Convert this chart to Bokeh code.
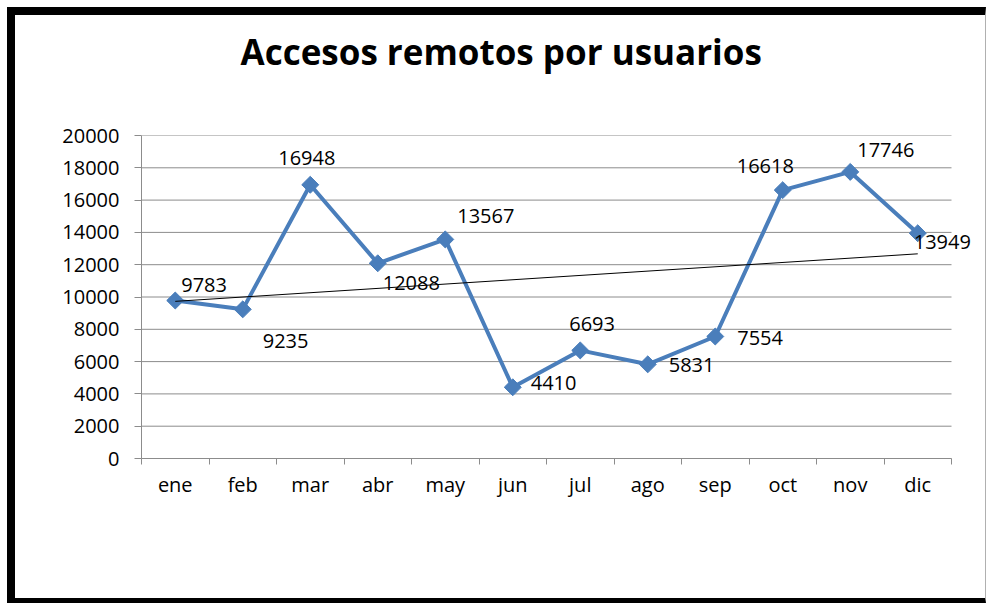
import numpy as np
from bokeh.plotting import figure
from bokeh.models import ColumnDataSource, FixedTicker, Range1d, Title
from bokeh.core.properties import value
from bokeh.embed import file_html
from bokeh.resources import INLINE

months = ["ene", "feb", "mar", "abr", "may", "jun", "jul", "ago", "sep", "oct", "nov", "dic"]
accesos = [9783, 9235, 16948, 12088, 13567, 4410, 6693, 5831, 7554, 16618, 17746, 13949]
y_ticks = [0, 2000, 4000, 6000, 8000, 10000, 12000, 14000, 16000, 18000, 20000]
title_text = "Accesos remotos por usuarios"

# label placement (screen px offsets), style only
label_dx = [6, 20, -32, 5, 12, 18, -11, 21, 22, -46, 7, -4]
label_dy = [-16, 32, -27, 20, -23, -4, -26, 1, 1, -24, -22, 9]

FONT = "Open Sans"
BLUE = "#4A7EBB"
GRID = "#8C8C8C"

W, H = 970, 583            # host content box
BL, BR, BT, BB = 8, 1, 8, 5  # css border widths
CW, CH = W + BL + BR, H + BT + BB   # canvas size bokeh actually lays out
ML, MR, MT, MB = 126, 0, 120, 153
FW = CW - ML - MR
PLOT_W = 810  # width of the category area in px

n = len(months)
xs = [i + 0.5 for i in range(n)]
src = ColumnDataSource(dict(x=xs, y=accesos, lab=[str(v) for v in accesos],
                            dx=label_dx, dy=label_dy))

p = figure(width=W, height=H, output_backend="svg", toolbar_location=None,
           x_range=Range1d(0, n * FW / PLOT_W), y_range=Range1d(y_ticks[0], y_ticks[-1]),
           min_border_left=ML, min_border_right=MR, min_border_top=MT, min_border_bottom=MB)
p.styles = {"margin": "7px 0 0 7px", "box-sizing": "content-box",
            "border-style": "solid", "border-color": "black #b0b0b0 black black",
            "border-width": f"{BT}px {BR}px {BB}px {BL}px"}

# main title, with a spacer title between it and the plot area
p.title.text = title_text
p.title.text_font = FONT
p.title.text_font_size = "35px"
p.title.text_font_style = "bold"
p.title.text_color = "black"
p.title.align = "left"
p.title.offset = 99
p.title.vertical_align = "middle"
p.title.standoff = 0
p.add_layout(Title(text=" ", text_font=FONT, text_font_size="10px", standoff=44), "above")

p.outline_line_color = None
p.background_fill_color = "white"
p.border_fill_color = "white"

# y axis
p.yaxis.ticker = FixedTicker(ticks=y_ticks)
p.yaxis.axis_line_color = GRID
p.yaxis.major_tick_line_color = GRID
p.yaxis.major_tick_out = 7
p.yaxis.major_tick_in = 0
p.yaxis.minor_tick_line_color = None
p.yaxis.major_label_text_font = FONT
p.yaxis.major_label_text_font_size = "20px"
p.yaxis.major_label_text_color = "black"
p.yaxis.major_label_standoff = 15
p.ygrid.grid_line_color = None

# horizontal gridlines limited to the category area
p.segment(x0=[0] * len(y_ticks), x1=[n] * len(y_ticks), y0=y_ticks, y1=y_ticks,
          line_color=GRID, line_width=1)

# x axis: labels at centers, ticks at boundaries (minor)
p.xaxis.ticker = FixedTicker(ticks=xs, minor_ticks=list(range(n + 1)))
p.xaxis.bounds = (0, n)
p.xaxis.major_label_overrides = {x: m for x, m in zip(xs, months)}
p.xaxis.axis_line_color = GRID
p.xaxis.major_tick_line_color = None
p.xaxis.minor_tick_line_color = GRID
p.xaxis.minor_tick_out = 6
p.xaxis.minor_tick_in = 0
p.xaxis.major_label_text_font = FONT
p.xaxis.major_label_text_font_size = "20px"
p.xaxis.major_label_text_color = "black"
p.xaxis.major_label_standoff = 6
p.xgrid.grid_line_color = None

# series
p.line("x", "y", source=src, line_color=BLUE, line_width=4)
p.scatter("x", "y", source=src, marker="square", angle=np.pi / 4, size=12,
          fill_color=BLUE, line_color=BLUE, line_width=1)

# linear trendline
coef = np.polyfit(np.arange(1, n + 1), accesos, 1)
tx = [xs[0], xs[-1]]
ty = [coef[0] * 1 + coef[1], coef[0] * n + coef[1]]
p.line(tx, ty, line_color="black", line_width=1)

# data labels
p.text("x", "y", text="lab", source=src, x_offset="dx", y_offset="dy",
       text_font=value(FONT), text_font_size="20px", text_color="black",
       text_align="left", text_baseline="middle")

open("out.html", "w").write(file_html(p, INLINE))
